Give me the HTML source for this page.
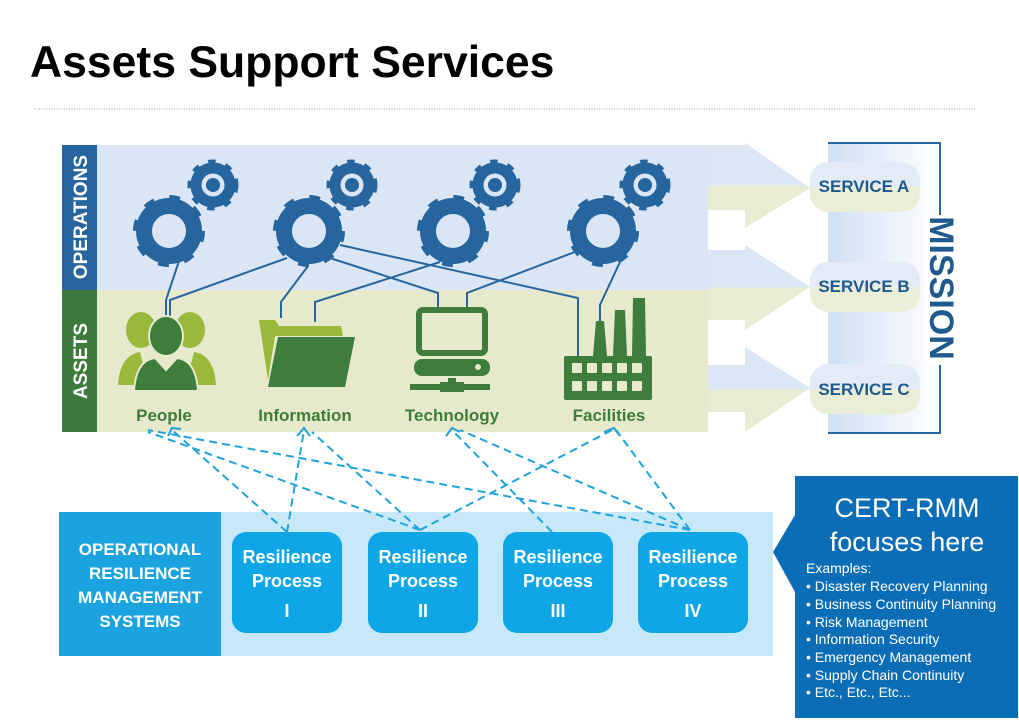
<!DOCTYPE html>
<html><head><meta charset="utf-8"><style>
html,body{margin:0;padding:0;background:#fff;}
svg{display:block;font-family:"Liberation Sans",sans-serif;}
</style></head><body>
<svg width="1019" height="720" viewBox="0 0 1019 720" xmlns="http://www.w3.org/2000/svg">
<defs>
<linearGradient id="mis" x1="0" x2="1" y1="0" y2="0"><stop offset="0" stop-color="#cfe0f3"/><stop offset="1" stop-color="#ffffff"/></linearGradient>
<linearGradient id="arrA" x1="0" x2="0" y1="0" y2="1"><stop offset="0" stop-color="#dbe7f5"/><stop offset="0.5" stop-color="#dbe7f5"/><stop offset="0.5" stop-color="#e9ecd2"/><stop offset="1" stop-color="#e9ecd2"/></linearGradient>
<linearGradient id="svc" x1="0" x2="0" y1="0" y2="1"><stop offset="0" stop-color="#e3ecf6"/><stop offset="0.5" stop-color="#e3ecf6"/><stop offset="0.5" stop-color="#eaeed6"/><stop offset="1" stop-color="#eaeed6"/></linearGradient>
<g id="bg"><circle r="25" fill="none" stroke="#27659e" stroke-width="16"/><circle r="31" fill="none" stroke="#27659e" stroke-width="10" stroke-dasharray="10 14.35"/></g>
<g id="sg"><circle r="17" fill="none" stroke="#27659e" stroke-width="11"/><circle r="22" fill="none" stroke="#27659e" stroke-width="7" stroke-dasharray="7 9.5"/><circle r="7" fill="#27659e"/></g>
</defs>
<text x="30" y="77" font-size="44.5" font-weight="bold" fill="#000">Assets Support Services</text>
<line x1="34" y1="109" x2="975" y2="109" stroke="#999" stroke-width="1" stroke-dasharray="1 1.5"/>

<rect x="828" y="143" width="112" height="290" fill="url(#mis)"/>
<polyline points="828,143 940,143 940,433 828,433" fill="none" stroke="#27659e" stroke-width="2"/>
<rect x="925" y="215" width="30" height="150" fill="#fff"/>
<text transform="translate(930,288) rotate(90)" text-anchor="middle" font-size="34" font-weight="bold" fill="#1f5a8e">MISSION</text>

<polygon points="708,145 745,145 745,143 810,188 745,228 745,210 708,210" fill="url(#arrA)"/>
<polygon points="708,250 745,250 745,245 810,287 745,330 745,320 708,320" fill="url(#arrA)"/>
<polygon points="708,365 745,365 745,347 810,388 745,432 745,412 708,412" fill="url(#arrA)"/>

<rect x="62" y="145" width="646" height="145" fill="#dae6f5"/>
<rect x="62" y="290" width="646" height="142" fill="#e6e9cc"/>
<rect x="62" y="145" width="35" height="145" fill="#27659e"/>
<rect x="62" y="290" width="35" height="142" fill="#3d7a3c"/>
<text transform="translate(87,217) rotate(-90)" text-anchor="middle" font-size="19" font-weight="bold" fill="#fff">OPERATIONS</text>
<text transform="translate(87,361) rotate(-90)" text-anchor="middle" font-size="19" font-weight="bold" fill="#fff">ASSETS</text>

<rect x="810" y="162" width="110" height="50" rx="18" fill="url(#svc)"/>
<rect x="810" y="262" width="110" height="50" rx="18" fill="url(#svc)"/>
<rect x="810" y="364" width="110" height="50" rx="18" fill="url(#svc)"/>
<g font-size="17" font-weight="bold" fill="#1f5a8e" text-anchor="middle">
<text x="864" y="192">SERVICE A</text><text x="864" y="292">SERVICE B</text><text x="864" y="395">SERVICE C</text></g>

<use href="#bg" x="169" y="231"/><use href="#sg" x="213" y="185"/>
<use href="#bg" x="309" y="231"/><use href="#sg" x="352" y="185"/>
<use href="#bg" x="453" y="231"/><use href="#sg" x="495" y="185"/>
<use href="#bg" x="603" y="231"/><use href="#sg" x="645" y="185"/>

<g fill="none" stroke="#27659e" stroke-width="2">
<polyline points="180,258 166,300 166,322"/>
<polyline points="287,258 170,300 170,322"/>
<polyline points="308,266 281,302 281,318"/>
<polyline points="440,262 315,302 315,322"/>
<polyline points="340,245 578,298 578,356"/>
<polyline points="330,258 438,293 438,308"/>
<polyline points="580,250 467,293 467,308"/>
<polyline points="620,262 600,305 600,321"/>
</g>

<g fill="#9ab83a">
<ellipse cx="141" cy="330" rx="15" ry="18"/><ellipse cx="190" cy="330" rx="15" ry="18"/>
<path d="M118,385 Q120,355 140,352 L148,385 Z"/><path d="M216,385 Q214,355 194,352 L186,385 Z"/>
</g>
<g fill="#3f7d3c" stroke="#e6e9cc" stroke-width="2">
<ellipse cx="166" cy="336" rx="17" ry="20"/>
<path d="M134,391 Q136,360 155,358 L166,370 L177,358 Q196,360 198,391 Z"/>
</g>
<path d="M259,320 L275,320 L279,326 L341,326 L343,336 L275,336 L268,380 Z" fill="#9ab83a"/>
<path d="M278,337 L355,337 L345,387 L268,387 Z" fill="#3f7d3c"/>
<rect x="419" y="310" width="66" height="43" rx="4" fill="none" stroke="#3f7d3c" stroke-width="6"/>
<rect x="414" y="359" width="76" height="17" rx="8" fill="#3f7d3c"/>
<circle cx="478" cy="367" r="3" fill="#e6e9cc"/>
<rect x="448" y="378" width="8" height="8" fill="#3f7d3c"/>
<rect x="410" y="384" width="80" height="6" fill="#3f7d3c"/>
<rect x="440" y="382" width="24" height="10" fill="#3f7d3c"/>
<rect x="564" y="356" width="88" height="44" rx="2" fill="#3f7d3c"/>
<path d="M593,356 L596,321 L604,321 L607,356 Z M613,356 L615,310 L625,310 L627,356 Z M632,356 L633,298 L645,298 L646,356 Z" fill="#3f7d3c"/>
<g fill="#e6e9cc">
<rect x="572" y="363" width="10" height="10" rx="1"/><rect x="587" y="363" width="10" height="10" rx="1"/><rect x="602" y="363" width="10" height="10" rx="1"/><rect x="617" y="363" width="10" height="10" rx="1"/><rect x="632" y="363" width="10" height="10" rx="1"/>
<rect x="572" y="381" width="10" height="10" rx="1"/><rect x="587" y="381" width="10" height="10" rx="1"/><rect x="602" y="381" width="10" height="10" rx="1"/><rect x="617" y="381" width="10" height="10" rx="1"/><rect x="632" y="381" width="10" height="10" rx="1"/>
</g>
<g font-size="17" font-weight="bold" fill="#3f7d3c" text-anchor="middle">
<text x="164" y="421">People</text><text x="305" y="421">Information</text><text x="452" y="421">Technology</text><text x="609" y="421">Facilities</text></g>

<rect x="59" y="512" width="714" height="144" fill="#c6e8f8"/>
<rect x="59" y="512" width="162" height="144" fill="#1ba3e0"/>
<g font-size="17" font-weight="bold" fill="#fff" text-anchor="middle">
<text x="140" y="555">OPERATIONAL</text><text x="140" y="579">RESILIENCE</text><text x="140" y="603">MANAGEMENT</text><text x="140" y="627">SYSTEMS</text></g>
<g fill="#0fa6e8">
<rect x="232" y="532" width="110" height="101" rx="14"/><rect x="368" y="532" width="110" height="101" rx="14"/>
<rect x="503" y="532" width="110" height="101" rx="14"/><rect x="638" y="532" width="110" height="101" rx="14"/></g>
<g font-size="18" font-weight="bold" fill="#fff" text-anchor="middle">
<text x="287" y="563">Resilience</text><text x="287" y="587">Process</text><text x="287" y="617">I</text>
<text x="423" y="563">Resilience</text><text x="423" y="587">Process</text><text x="423" y="617">II</text>
<text x="558" y="563">Resilience</text><text x="558" y="587">Process</text><text x="558" y="617">III</text>
<text x="693" y="563">Resilience</text><text x="693" y="587">Process</text><text x="693" y="617">IV</text></g>

<g fill="none" stroke="#1fa3dc" stroke-width="2" stroke-dasharray="8 5">
<line x1="287" y1="532" x2="172" y2="430"/>
<line x1="287" y1="532" x2="304" y2="430"/>
<line x1="420" y1="530" x2="148" y2="432"/>
<line x1="420" y1="530" x2="312" y2="432"/>
<line x1="420" y1="530" x2="612" y2="430"/>
<line x1="552" y1="532" x2="452" y2="430"/>
<line x1="690" y1="530" x2="148" y2="430"/>
<line x1="690" y1="530" x2="460" y2="430"/>
<line x1="690" y1="530" x2="616" y2="430"/>
</g>
<g fill="none" stroke="#1fa3dc" stroke-width="2">
<polyline points="168,436 172,428 181,429"/><polyline points="297,436 304,428 310,436"/>
<polyline points="446,436 452,428 460,432"/><polyline points="604,432 614,428 620,436"/>
</g>

<polygon points="795,476 1018,476 1018,718 795,718 795,592 773,552 795,515" fill="#0b6db5"/>
<g fill="#fff" text-anchor="middle" font-size="27"><text x="907" y="517">CERT-RMM</text><text x="907" y="551">focuses here</text></g>
<g fill="#fff" font-size="14">
<text x="806" y="573">Examples:</text>
<text x="806" y="591">•  Disaster Recovery Planning</text>
<text x="806" y="609">•  Business Continuity Planning</text>
<text x="806" y="627">•  Risk Management</text>
<text x="806" y="644">•  Information Security</text>
<text x="806" y="662">•  Emergency Management</text>
<text x="806" y="680">•  Supply Chain Continuity</text>
<text x="806" y="697">•  Etc., Etc., Etc...</text>
</g>
</svg>
</body></html>
